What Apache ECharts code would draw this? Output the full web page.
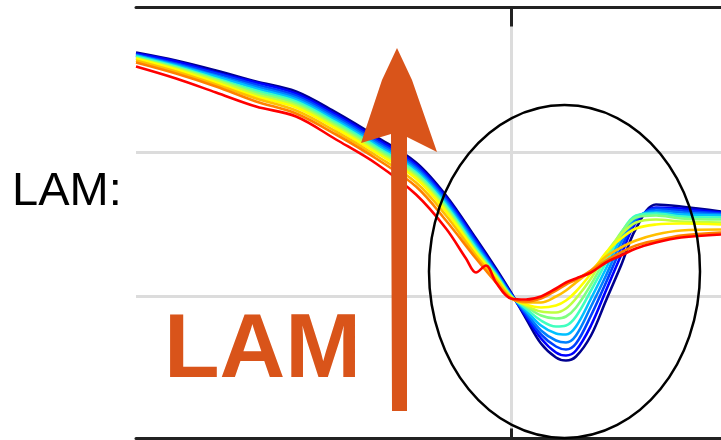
<!DOCTYPE html>
<html>
<head>
<meta charset="utf-8">
<script src="https://cdn.jsdelivr.net/npm/echarts@6/dist/echarts.min.js"></script>
<style>
  html, body { margin: 0; padding: 0; background: #fff; }
  #main { width: 721px; height: 440px; }
</style>
</head>
<body>
<div id="main"></div>
<script>
var chartDom = document.getElementById('main');
var myChart = echarts.init(chartDom);
var option;

// x positions (arbitrary units) shared by the spectra
let xs = [0, 0.4, 0.8, 1.2, 1.6, 2.0, 2.4, 2.8, 3.1, 3.4, 3.6, 3.75, 3.9, 4.05, 4.2, 4.3, 4.4, 4.55, 4.7, 4.85, 5.0, 5.2, 5.45, 5.85];

// one spectrum per step, blue -> red (height above baseline)
let spec0  = [3.86, 3.78, 3.68, 3.57, 3.47, 3.26, 3.02, 2.76, 2.43, 2.00, 1.70, 1.46, 1.20, 0.95, 0.81, 0.78, 0.82, 1.03, 1.38, 1.73, 2.10, 2.34, 2.32, 2.27];
let spec1  = [3.85, 3.77, 3.66, 3.56, 3.45, 3.24, 3.00, 2.74, 2.41, 1.98, 1.68, 1.45, 1.22, 1.00, 0.86, 0.83, 0.88, 1.13, 1.48, 1.83, 2.16, 2.31, 2.30, 2.26];
let spec2  = [3.84, 3.75, 3.65, 3.54, 3.43, 3.22, 2.98, 2.72, 2.39, 1.96, 1.67, 1.44, 1.24, 1.04, 0.92, 0.89, 0.95, 1.23, 1.56, 1.90, 2.18, 2.30, 2.28, 2.25];
let spec3  = [3.83, 3.74, 3.63, 3.52, 3.41, 3.20, 2.96, 2.70, 2.37, 1.94, 1.66, 1.44, 1.26, 1.08, 0.98, 0.96, 1.03, 1.32, 1.63, 1.96, 2.20, 2.28, 2.26, 2.24];
let spec4  = [3.83, 3.73, 3.62, 3.50, 3.39, 3.18, 2.94, 2.68, 2.35, 1.92, 1.65, 1.43, 1.28, 1.13, 1.05, 1.04, 1.12, 1.40, 1.70, 2.01, 2.22, 2.26, 2.24, 2.23];
let spec5  = [3.82, 3.72, 3.60, 3.48, 3.37, 3.16, 2.92, 2.66, 2.33, 1.90, 1.64, 1.43, 1.30, 1.18, 1.12, 1.13, 1.22, 1.48, 1.76, 2.05, 2.23, 2.25, 2.22, 2.21];
let spec6  = [3.81, 3.71, 3.59, 3.46, 3.35, 3.14, 2.90, 2.64, 2.31, 1.88, 1.63, 1.42, 1.32, 1.23, 1.20, 1.22, 1.31, 1.54, 1.81, 2.06, 2.21, 2.23, 2.20, 2.19];
let spec7  = [3.80, 3.70, 3.58, 3.44, 3.33, 3.12, 2.88, 2.62, 2.29, 1.87, 1.62, 1.42, 1.33, 1.27, 1.26, 1.30, 1.40, 1.60, 1.85, 2.04, 2.16, 2.19, 2.17, 2.16];
let spec8  = [3.80, 3.69, 3.56, 3.42, 3.31, 3.10, 2.86, 2.60, 2.27, 1.86, 1.61, 1.41, 1.34, 1.31, 1.33, 1.38, 1.47, 1.65, 1.86, 2.00, 2.10, 2.14, 2.15, 2.14];
let spec9  = [3.78, 3.67, 3.54, 3.40, 3.28, 3.07, 2.83, 2.56, 2.23, 1.83, 1.59, 1.41, 1.36, 1.36, 1.42, 1.48, 1.56, 1.68, 1.82, 1.91, 1.98, 2.04, 2.08, 2.09];
let spec10 = [3.76, 3.65, 3.52, 3.37, 3.25, 3.04, 2.80, 2.52, 2.18, 1.80, 1.56, 1.40, 1.37, 1.40, 1.48, 1.54, 1.59, 1.68, 1.78, 1.86, 1.93, 1.98, 2.03, 2.06];
// red one has its own small loop near 3.4
let xsRed  = [0, 0.4, 0.8, 1.2, 1.6, 2.0, 2.4, 2.8, 3.1, 3.3, 3.4, 3.5, 3.6, 3.75, 3.9, 4.05, 4.2, 4.3, 4.4, 4.55, 4.7, 4.85, 5.0, 5.2, 5.45, 5.85];
let spec11 = [3.72, 3.60, 3.46, 3.32, 3.22, 2.99, 2.75, 2.44, 2.10, 1.80, 1.66, 1.73, 1.56, 1.40, 1.39, 1.42, 1.50, 1.56, 1.60, 1.66, 1.76, 1.83, 1.90, 1.96, 2.01, 2.04];

let specs = [spec0, spec1, spec2, spec3, spec4, spec5, spec6, spec7, spec8, spec9, spec10, spec11];
let colors = ['#00008f', '#0000ff', '#0040ff', '#0080ff', '#00c0ff', '#40ffbf',
              '#80ff80', '#bfff40', '#ffff00', '#ffbf00', '#ff8000', '#ff0000'];

let gridX = [3.755];          // vertical grid line / tick
let gridY = [1.42, 2.865];    // horizontal grid lines

let series = specs.map(function (s, k) {
  let xv = (k === 11) ? xsRed : xs;
  return {
    type: 'line',
    data: s.map(function (v, i) { return [xv[i], v]; }),
    showSymbol: false,
    smooth: 0.35,
    lineStyle: { color: colors[k], width: 2.6 },
    silent: true
  };
});

const orange = '#d9541a';

option = {
  animation: false,
  grid: { left: 136, right: 0, top: 7.5, bottom: 1.5 },
  xAxis: [
    {
      type: 'value', min: 0, max: 5.85, position: 'bottom',
      axisLine: { show: true, onZero: false, lineStyle: { color: '#222', width: 3 } },
      axisTick: { show: true, inside: true, length: 10, customValues: gridX, lineStyle: { color: '#222', width: 3 } },
      axisLabel: { show: false },
      splitLine: { show: true, lineStyle: { color: '#dcdcdc', width: 3 } }
    },
    {
      type: 'value', min: 0, max: 5.85, position: 'top',
      axisLine: { show: true, onZero: false, lineStyle: { color: '#222', width: 3 } },
      axisTick: { show: true, inside: true, length: 19, customValues: gridX, lineStyle: { color: '#222', width: 3 } },
      axisLabel: { show: false },
      splitLine: { show: false }
    }
  ],
  yAxis: {
    type: 'value', min: 0, max: 4.31,
    axisLine: { show: false },
    axisTick: { show: false, customValues: gridY },
    axisLabel: { show: false },
    splitLine: { show: true, lineStyle: { color: '#dcdcdc', width: 3 } }
  },
  series: series,
  graphic: [
    {
      type: 'text', left: 12, top: 169, z: 100,
      style: { text: 'LAM:', fontSize: 47, fontFamily: 'Liberation Sans, Arial, sans-serif', fill: '#000', verticalAlign: 'middle' }
    },
    {
      type: 'text', x: 164, y: 352, z: 100,
      style: { text: 'LAM', fontSize: 91, fontWeight: 'bold', fontFamily: 'Liberation Sans, Arial, sans-serif', fill: orange, verticalAlign: 'middle' }
    },
    {
      type: 'polygon', z: 100,
      shape: { points: [[397, 48], [412, 80], [437, 152], [407, 137], [407, 411], [392, 411], [391, 134], [361, 143], [382, 80]] },
      style: { fill: orange }
    },
    {
      type: 'ellipse', z: 101,
      shape: { cx: 564.5, cy: 271.5, rx: 135.5, ry: 166.5 },
      style: { fill: null, stroke: '#000', lineWidth: 2.5 }
    }
  ]
};

option && myChart.setOption(option);
</script>
</body>
</html>
